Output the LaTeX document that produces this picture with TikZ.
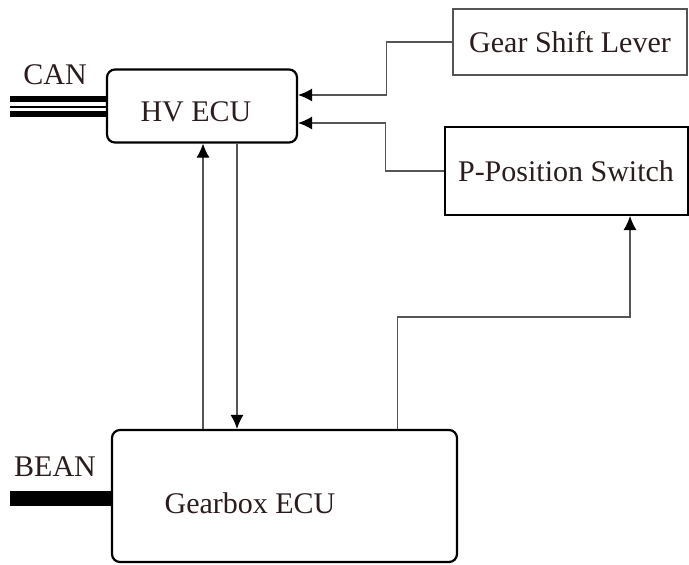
\documentclass[tikz,border=0pt]{standalone}
\usepackage{fontspec}
\setmainfont{Liberation Serif}
\usepackage{tikz}
\usetikzlibrary{positioning,arrows.meta,calc}
\definecolor{inkbrown}{HTML}{2B1D1D}
\definecolor{wiregray}{HTML}{555555}

\begin{document}
\begin{tikzpicture}[x=0.5pt, y=-0.5pt,
  every node/.style={font=\fontsize{15}{18}\selectfont, text=inkbrown},
  ecu/.style={draw, line width=1.1pt, rounded corners=4pt, inner sep=0pt},
  unit/.style={draw, inner sep=0pt},
  link/.style={draw=wiregray, line width=0.6pt},
  sig/.style={link, -{Latex[length=7pt, width=6.5pt, black]}},
  bus/.style={line width=2.8pt, black}
]
\useasboundingbox (0,0) rectangle (689,564);

% control units
\node[ecu, minimum width=95pt, minimum height=36.5pt] (hv) at (202,106) {};
\node at (196,112) {HV ECU};
\node[ecu, minimum width=172.5pt, minimum height=66pt] (gb) at (284.5,496) {};
\node at (250,503) {Gearbox ECU};

% inputs
\node[unit, draw=wiregray, line width=0.7pt, minimum width=117pt, minimum height=33pt] (gsl) at (570,42) {Gear Shift Lever};
\node[unit, line width=1pt, minimum width=121.5pt, minimum height=44pt] (pps) at (566,171) {P-Position Switch};

% buses
\node (can) at (55,75) {CAN};
\node (bean) at (55,467) {BEAN};
\draw[bus] (10,99) -- ([yshift=3.5pt]hv.west);
\draw[line width=1pt] (10,107) -- ([yshift=-0.5pt]hv.west);
\draw[bus] (10,114) -- ([yshift=-4pt]hv.west);
\draw[line width=7.5pt] (10,498) -- ([yshift=-1pt]gb.west);

% signals
\draw[sig] (gsl.west) -- ++(-66,0) |- ([yshift=5.5pt]hv.east);
\draw[sig] (pps.west) -- ++(-58,0) |- ([yshift=-8.5pt]hv.east);
\draw[sig] ([xshift=0.5pt]hv.south |- gb.north) -- ([xshift=0.5pt]hv.south);
\draw[sig] ([xshift=17.5pt]hv.south) -- ([xshift=17.5pt]hv.south |- gb.north);
\draw[sig] ([xshift=56.5pt]gb.north) -- ++(0,-112) -| ([xshift=32pt]pps.south);
\end{tikzpicture}
\end{document}
